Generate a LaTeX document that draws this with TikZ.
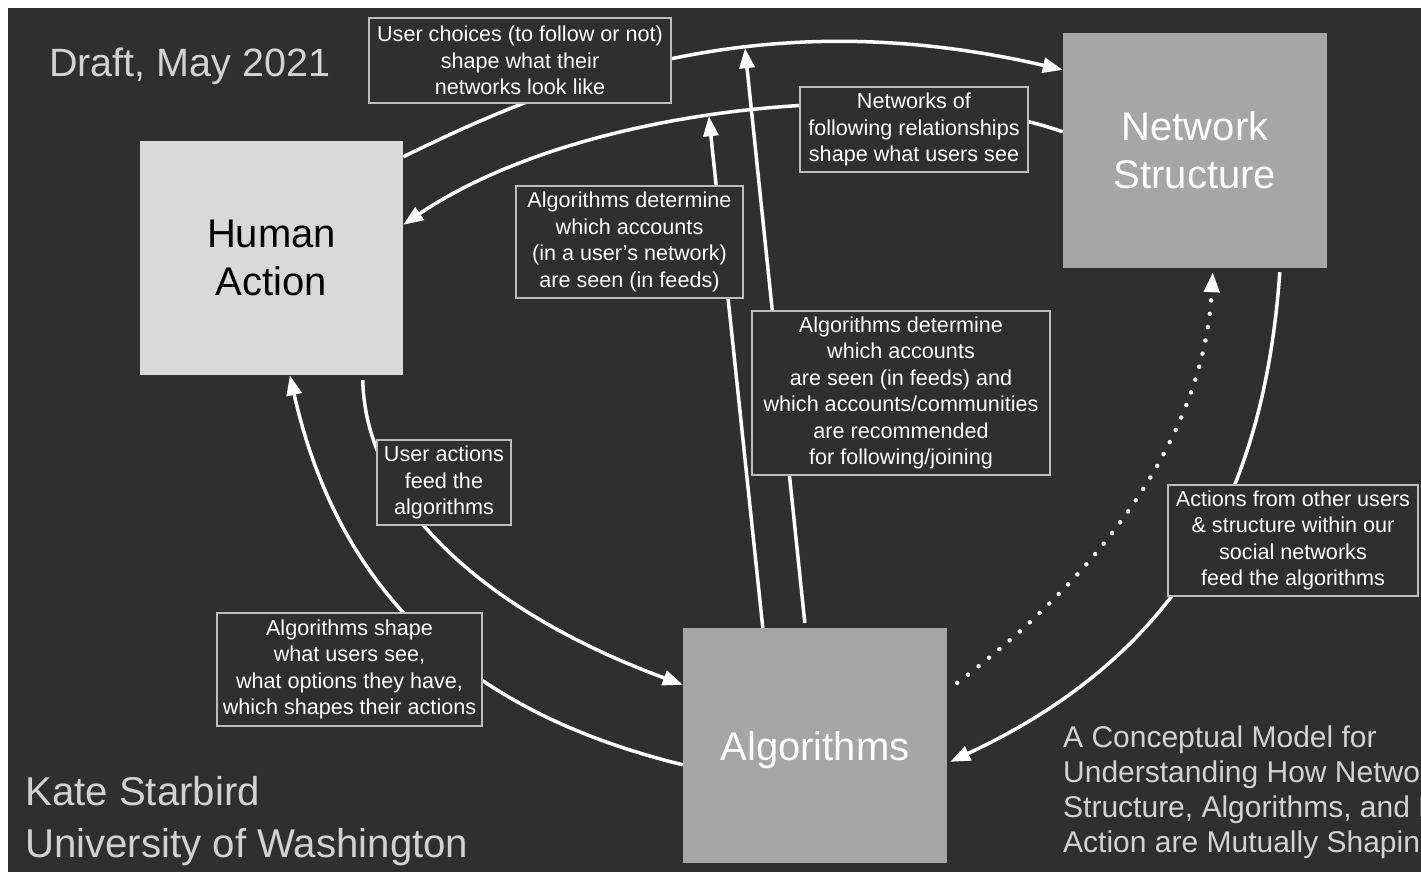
\documentclass[tikz,border=0pt]{standalone}
\usepackage{fontspec}
\setmainfont{Liberation Sans}
\usetikzlibrary{arrows.meta,calc}
\definecolor{bg}{HTML}{2F2F2F}
\definecolor{lightbox}{HTML}{D9D9D9}
\definecolor{midbox}{HTML}{A6A6A6}
\definecolor{soft}{HTML}{D2D2D2}
\definecolor{lblborder}{HTML}{BDBDBD}
\begin{document}
\begin{tikzpicture}[x=1pt,y=-1pt,
  bigbox/.style={rectangle, minimum width=264pt, minimum height=235pt, inner sep=0pt, align=center, font=\fontsize{40}{48}\selectfont},
  lbl/.style={rectangle, draw=lblborder, line width=1.2pt, fill=bg, text=white, align=center, inner sep=0pt, font=\fontsize{21.6}{26.4}\selectfont},
  conn/.style={draw=white, line width=3.5pt, -{Triangle[length=20pt,width=15pt]}},
  dotconn/.style={draw=white, line width=4.5pt, line cap=round, dash pattern=on 0pt off 13.5pt, -{Triangle[length=20pt,width=15pt]}},
  freetext/.style={text=soft, inner sep=0pt, anchor=base west}]
\useasboundingbox (0,0) rectangle (1421,872);
\fill[white] (0,0) rectangle (1421,872);
\fill[bg] (8,8) rectangle (1421,872);

% main boxes
\node[bigbox, fill=lightbox, text=black, minimum width=263pt, minimum height=234pt] (ha) at (271.5,258) {Human\\Action};
\node[bigbox, fill=midbox, text=white] (ns) at (1195,150.5) {Network\\Structure};
\node[bigbox, fill=midbox, text=white, text depth=0pt] (al) at (815,745.5) {Algorithms};

% connectors
\draw[conn] ($(ha.north east)+(0,16)$) .. controls (560,80) and (760,0) .. ($(ns.north west)+(0,37)$) coordinate[pos=0.6] (onA);
\draw[conn] ($(ns.north west)+(0,99)$) .. controls (900,75) and (580,105) .. ($(ha.north east)+(0,84)$) coordinate[pos=0.54] (onB);
\draw[conn] ($(al.north west)+(0,137)$) .. controls (500,720) and (345,620) .. ($(ha.south west)+(150,0)$);
\draw[conn] ($(ha.south west)+(223,5)$) .. controls (365,500) and (480,610) .. ($(al.north west)+(0,57)$);
\draw[conn] ($(al.north west)+(122,-5)$) -- (onA);
\draw[conn] ($(al.north west)+(80,0)$) -- (onB);
\draw[conn] ($(ns.south west)+(217,4)$) .. controls (1265,480) and (1190,650) .. ($(al.north east)+(3,134)$);
\draw[dotconn] ($(al.north east)+(10,55)$) .. controls (1120,560) and (1205,420) .. ($(ns.south west)+(150,4)$);

% labels
\node[lbl, minimum width=302pt, minimum height=85pt] (l1) at (520,60.5) {User choices (to follow or not)\\shape what their\\networks look like};
\node[lbl, minimum width=228pt, minimum height=85pt] (l2) at (914,129.5) {Networks of\\following relationships\\shape what users see};
\node[lbl, minimum width=227pt, minimum height=112pt] (l3) at (629.5,242) {Algorithms determine\\which accounts\\(in a user’s network)\\are seen (in feeds)};
\node[lbl, minimum width=298pt, minimum height=164pt] (l4) at (901,393) {Algorithms determine\\which accounts\\are seen (in feeds) and\\which accounts/communities\\are recommended\\for following/joining};
\node[lbl, minimum width=134pt, minimum height=85pt] (l5) at (444,482.5) {User actions\\feed the\\algorithms};
\node[lbl, minimum width=265pt, minimum height=113pt] (l6) at (349.5,669.5) {Algorithms shape\\what users see,\\what options they have,\\which shapes their actions};
\node[lbl, minimum width=250pt, minimum height=111pt] (l7) at (1293,540.5) {Actions from other users\\\& structure within our\\social networks\\feed the algorithms};

% free text
\node[freetext, font=\fontsize{39.5}{47}\selectfont] (draft) at (49,77) {Draft, May 2021};
\node[freetext, font=\fontsize{40.2}{47}\selectfont] (kate) at (25,805) {Kate Starbird};
\node[freetext, font=\fontsize{40.2}{47}\selectfont] (uw) at (25,857) {University of Washington};
\begin{scope}
\clip (0,0) rectangle (1421,872);
\node[freetext, font=\fontsize{30}{35}\selectfont] (t1) at (1063,747) {A Conceptual Model for};
\node[freetext, font=\fontsize{30}{35}\selectfont] (t2) at (1063,782) {Understanding How Network};
\node[freetext, font=\fontsize{30}{35}\selectfont] (t3) at (1063,817) {Structure, Algorithms, and Human};
\node[freetext, font=\fontsize{30}{35}\selectfont] (t4) at (1063,852) {Action are Mutually Shaping};
\end{scope}
\end{tikzpicture}
\end{document}
